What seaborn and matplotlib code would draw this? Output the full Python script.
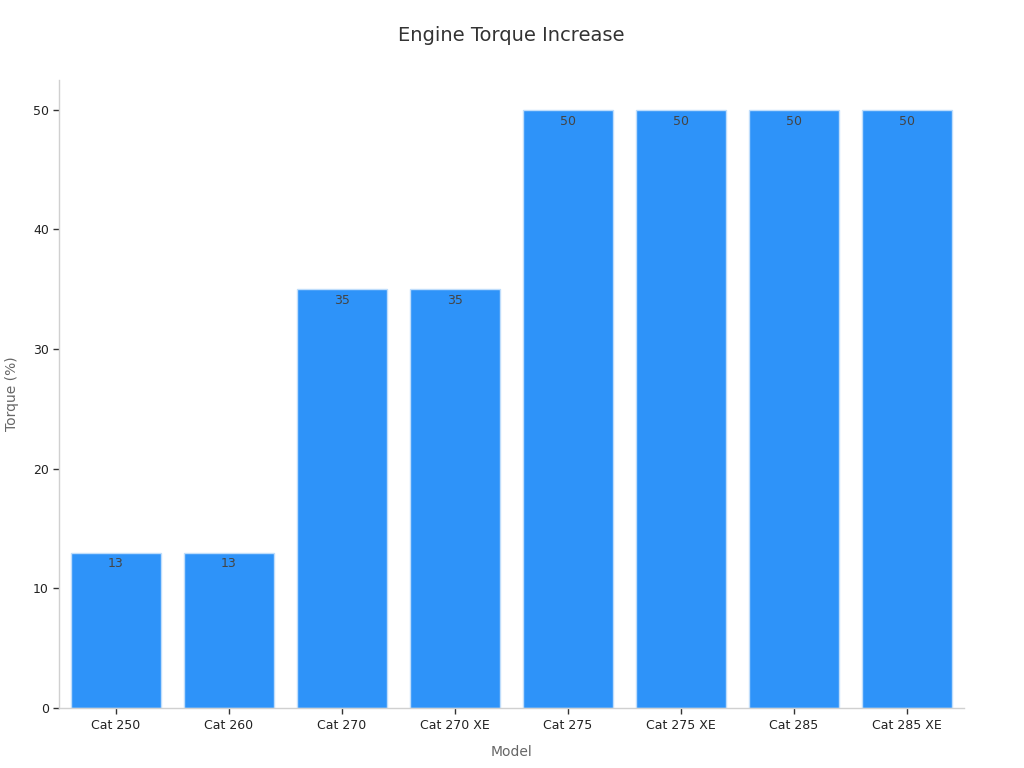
import matplotlib
matplotlib.use("Agg")
import matplotlib.pyplot as plt
import seaborn as sns
import pandas as pd

models = ["Cat 250", "Cat 260", "Cat 270", "Cat 270 XE",
          "Cat 275", "Cat 275 XE", "Cat 285", "Cat 285 XE"]
torque = [13, 13, 35, 35, 50, 50, 50, 50]

sns.set_theme(style="white")
plt.rcParams["font.family"] = ["DejaVu Sans"]

df = pd.DataFrame({"Model": models, "Torque": torque})

fig, ax = plt.subplots(figsize=(10.24, 7.68), dpi=100)
fig.subplots_adjust(left=0.058, right=0.941, top=0.896, bottom=0.078)

sns.barplot(data=df, x="Model", y="Torque", color="#2E93F9", saturation=1,
            width=0.8, edgecolor="#BFDDFB", linewidth=1, ax=ax)

# value labels just inside the top of each bar
for i, v in enumerate(torque):
    ax.text(i, v - 0.4, f"{v}", ha="center", va="top", fontsize=9, color="#444444")

ax.set_xlim(-0.5, 7.5)
ax.set_ylim(0, 52.5)
ax.set_yticks([0, 10, 20, 30, 40, 50])

for side in ["top", "right"]:
    ax.spines[side].set_visible(False)
for side in ["left", "bottom"]:
    ax.spines[side].set_color("#D0D0D0")
    ax.spines[side].set_linewidth(1)

ax.tick_params(axis="both", length=4, width=1, color="#333333",
               labelsize=9, labelcolor="#222222", left=True, bottom=True)

ax.set_title("Engine Torque Increase", fontsize=14, color="#333333", pad=28)
ax.set_xlabel("Model", fontsize=10, color="#666666", labelpad=10)
ax.set_ylabel("Torque (%)", fontsize=10, color="#666666", labelpad=10)

plt.savefig("out.png", dpi=100)
plt.close()
